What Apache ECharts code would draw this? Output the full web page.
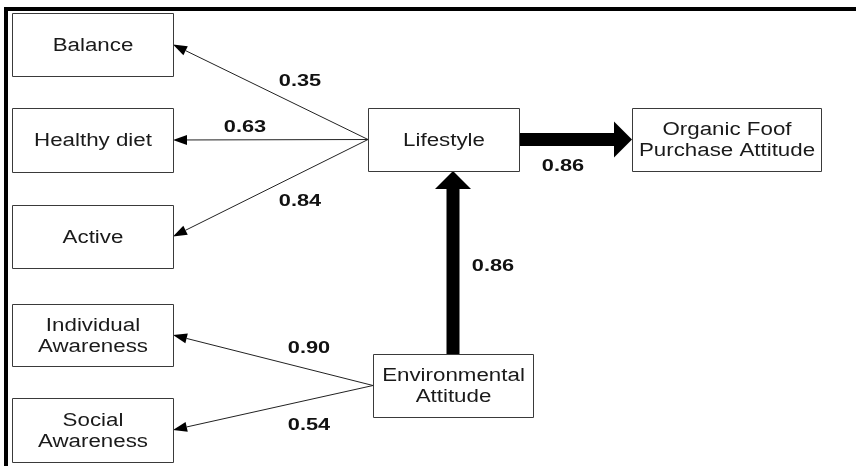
<!DOCTYPE html>
<html>
<head>
<meta charset="utf-8">
<script src="https://cdn.jsdelivr.net/npm/echarts@6/dist/echarts.min.js"></script>
<style>
    html, body { margin: 0; padding: 0; background: #fff; }
    #main { width: 856px; height: 466px; }
</style>
</head>
<body>
<div id="main"></div>
<script>
// constructs of the path model
var nodeNames = [
    'Balance',
    'Healthy diet',
    'Active',
    'Individual\nAwareness',
    'Social\nAwareness',
    'Lifestyle',
    'Environmental\nAttitude',
    'Organic Foof\nPurchase Attitude'
];

// paths: from -> to, standardized coefficient, kind of path
var pathFrom = [5, 5, 5, 6, 6, 5, 6];
var pathTo = [0, 1, 2, 3, 4, 7, 5];
var pathCoef = ['0.35', '0.63', '0.84', '0.90', '0.54', '0.86', '0.86'];
var pathKind = ['measure', 'measure', 'measure', 'measure', 'measure', 'structural', 'structural'];

// layout of the boxes (diagram units = pixels of the picture)
var boxLeft = [12, 12, 12, 12, 12, 368, 373, 632];
var boxTop = [13, 108, 205, 304, 398, 108, 354, 108];
var boxRight = [173, 173, 173, 173, 173, 519, 533, 821];
var boxBottom = [76, 172, 268, 366, 462, 171, 417, 171];

// where each coefficient is written
var labelX = [300, 245, 300, 309, 309, 563, 493];
var labelY = [81, 127, 201, 348, 425, 166, 266];

var FONT = '"Liberation Sans", Arial, sans-serif';

var chart = echarts.init(document.getElementById('main'));

function renderBox(params, api) {
    var i = api.value(0);
    var p0 = api.coord([boxLeft[i], boxTop[i]]);
    var p1 = api.coord([boxRight[i], boxBottom[i]]);
    var x0 = Math.round(p0[0]) + 0.5, y0 = Math.round(p0[1]) + 0.5;
    var x1 = Math.round(p1[0]) + 0.5, y1 = Math.round(p1[1]) + 0.5;
    return {
        type: 'group',
        children: [
            {
                type: 'rect',
                shape: { x: x0, y: y0, width: x1 - x0, height: y1 - y0 },
                style: { fill: '#fff', stroke: '#3a3a3a', lineWidth: 1 }
            },
            {
                type: 'text',
                x: (x0 + x1) / 2,
                y: (y0 + y1) / 2 + 1,
                scaleX: 1.24,
                style: {
                    text: nodeNames[i],
                    fill: '#1a1a1a',
                    font: '18px ' + FONT,
                    lineHeight: 21,
                    align: 'center',
                    verticalAlign: 'middle'
                }
            }
        ]
    };
}

function renderPath(params, api) {
    var i = api.value(0);
    var s = pathFrom[i], t = pathTo[i];
    var a, b;
    if (boxRight[t] < boxLeft[s]) {
        a = [boxLeft[s], (boxTop[s] + boxBottom[s]) / 2];
        b = [boxRight[t], (boxTop[t] + boxBottom[t]) / 2];
    } else if (boxLeft[t] > boxRight[s]) {
        a = [boxRight[s], (boxTop[s] + boxBottom[s]) / 2];
        b = [boxLeft[t], (boxTop[t] + boxBottom[t]) / 2];
    } else {
        var mx = (boxLeft[s] + boxRight[s]) / 2;
        a = [mx, boxTop[s]];
        b = [mx, boxBottom[t]];
    }
    var p = api.coord(a), q = api.coord(b);
    var dx = q[0] - p[0], dy = q[1] - p[1];
    var len = Math.sqrt(dx * dx + dy * dy);
    var ux = dx / len, uy = dy / len;
    var nx = -uy, ny = ux;
    var thick = pathKind[i] === 'structural';
    var headLen = thick ? 18 : 14;
    var headW = thick ? 36 : 10;
    var shaftW = thick ? 13 : 1;
    var bx = q[0] - ux * headLen, by = q[1] - uy * headLen;
    var children = [];
    if (thick) {
        children.push({
            type: 'polygon',
            shape: { points: [
                [p[0] + nx * shaftW / 2, p[1] + ny * shaftW / 2],
                [bx + nx * shaftW / 2, by + ny * shaftW / 2],
                [bx - nx * shaftW / 2, by - ny * shaftW / 2],
                [p[0] - nx * shaftW / 2, p[1] - ny * shaftW / 2]
            ] },
            style: { fill: '#000' }
        });
    } else {
        children.push({
            type: 'line',
            shape: { x1: p[0], y1: p[1], x2: bx, y2: by },
            style: { stroke: '#222', lineWidth: 1 }
        });
    }
    children.push({
        type: 'polygon',
        shape: { points: [
            [q[0], q[1]],
            [bx + nx * headW / 2, by + ny * headW / 2],
            [bx - nx * headW / 2, by - ny * headW / 2]
        ] },
        style: { fill: '#000' }
    });
    var lp = api.coord([labelX[i], labelY[i]]);
    children.push({
        type: 'text',
        x: lp[0],
        y: lp[1],
        scaleX: 1.28,
        style: {
            text: pathCoef[i],
            fill: '#111',
            font: 'bold 17px ' + FONT,
            align: 'center',
            verticalAlign: 'middle'
        }
    });
    return { type: 'group', children: children };
}

chart.setOption({
    animation: false,
    backgroundColor: '#fff',
    grid: { left: 0, right: 0, top: 0, bottom: 0 },
    xAxis: { type: 'value', min: 0, max: 856, show: false },
    yAxis: { type: 'value', min: 0, max: 466, inverse: true, show: false },
    graphic: [
        { type: 'rect', shape: { x: 4, y: 7, width: 852, height: 4 }, style: { fill: '#000' } },
        { type: 'rect', shape: { x: 4, y: 7, width: 4, height: 459 }, style: { fill: '#000' } }
    ],
    series: [
        {
            type: 'custom',
            renderItem: renderPath,
            data: pathFrom.map(function (f, i) { return [i]; }),
            z: 1
        },
        {
            type: 'custom',
            renderItem: renderBox,
            data: nodeNames.map(function (n, i) { return [i]; }),
            z: 2
        }
    ]
});
</script>
</body>
</html>
